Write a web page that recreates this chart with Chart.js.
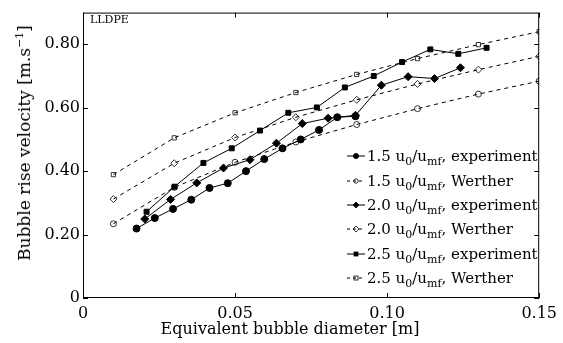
<!DOCTYPE html>
<html>
<head>
<meta charset="utf-8">
<script src="https://cdn.jsdelivr.net/npm/chart.js@4/dist/chart.umd.min.js"></script>
<style>
  html, body { margin: 0; padding: 0; background: #fff; }
  #wrap { position: relative; width: 563px; height: 343px; }
  .txt { position: absolute; font-family: "DejaVu Serif", serif; color: #000; white-space: nowrap; }
  #tag { left: 90px; top: 13px; font-size: 11px; }
  #xtitle { left: 290px; top: 328px; font-size: 16px; transform: translate(-50%, -50%); }
  #ytitle { left: 24px; top: 143px; font-size: 17px; transform: translate(-50%, -50%) rotate(-90deg); }
  #ytitle sup { font-size: 11px; vertical-align: 7px; line-height: 0; }
  #legend { left: 347px; top: 144px; font-size: 15px; }
  #legend .row { height: 24.4px; line-height: 20px; display: flex; align-items: center; }
  #legend svg { margin-right: 2px; }
  #legend sub { font-size: 11px; vertical-align: -4px; line-height: 0; }
</style>
</head>
<body>
<div id="wrap">
  <canvas id="c" width="563" height="343"></canvas>
  <div id="tag" class="txt">LLDPE</div>
  <div id="xtitle" class="txt">Equivalent bubble diameter [m]</div>
  <div id="ytitle" class="txt">Bubble rise velocity [m.s<sup>&minus;1</sup>]</div>
  <div id="legend" class="txt"></div>
</div>
<script>
// Equivalent bubble diameter [m] / rise velocity [m/s]
const exp15X = [0.0176, 0.0236, 0.0296, 0.0356, 0.0416, 0.0476, 0.0536, 0.0596, 0.0656, 0.0716, 0.0776, 0.0836, 0.0896];
const exp15Y = [0.219, 0.252, 0.281, 0.310, 0.347, 0.362, 0.400, 0.438, 0.472, 0.500, 0.530, 0.570, 0.573];

const exp20X = [0.0203, 0.0288, 0.0374, 0.0462, 0.0549, 0.0636, 0.0721, 0.0806, 0.0896, 0.0981, 0.1069, 0.1156, 0.1241];
const exp20Y = [0.249, 0.311, 0.363, 0.410, 0.436, 0.488, 0.550, 0.567, 0.576, 0.671, 0.698, 0.692, 0.726];

const exp25X = [0.0209, 0.0301, 0.0396, 0.0489, 0.0582, 0.0675, 0.0769, 0.0861, 0.0956, 0.1049, 0.1142, 0.1234, 0.1327];
const exp25Y = [0.272, 0.351, 0.426, 0.472, 0.528, 0.584, 0.601, 0.664, 0.700, 0.744, 0.784, 0.770, 0.789];

const wertherX = [0.01, 0.03, 0.05, 0.07, 0.09, 0.11, 0.13, 0.15];
const werther15Y = [0.234, 0.349, 0.428, 0.492, 0.547, 0.597, 0.643, 0.684];
const werther20Y = [0.312, 0.425, 0.506, 0.570, 0.625, 0.675, 0.720, 0.762];
const werther25Y = [0.389, 0.505, 0.584, 0.648, 0.705, 0.755, 0.799, 0.840];

const xTicks = [0, 0.05, 0.10, 0.15];
const yTicks = [0, 0.20, 0.40, 0.60, 0.80];

const pts = (xs, ys) => xs.map((x, i) => ({ x: x, y: ys[i] }));

function expSet(ratio, xs, ys, shape, r) {
  return { label: ratio + "|experiment", data: pts(xs, ys), borderColor: "#000", backgroundColor: "#000",
    borderWidth: 1, pointStyle: shape, pointRadius: r, pointBorderWidth: 1, pointBackgroundColor: "#000", showLine: true };
}
function werSet(ratio, ys, shape, r) {
  return { label: ratio + "|Werther", data: pts(wertherX, ys), borderColor: "#000", backgroundColor: "rgba(0,0,0,0)",
    borderWidth: 1, borderDash: [4, 4], pointStyle: shape, pointRadius: r, pointBorderWidth: 0.8,
    pointBackgroundColor: "rgba(0,0,0,0)", showLine: true };
}

const datasets = [
  expSet("1.5", exp15X, exp15Y, "circle", 3.5),
  werSet("1.5", werther15Y, "circle", 3),
  expSet("2.0", exp20X, exp20Y, "rectRot", 4),
  werSet("2.0", werther20Y, "rectRot", 3.5),
  expSet("2.5", exp25X, exp25Y, "rect", 3.5),
  werSet("2.5", werther25Y, "rect", 3)
];

// inward ticks + full box
const frame = {
  id: "frame",
  afterDraw(chart) {
    const { ctx, chartArea: a, scales } = chart;
    ctx.save();
    ctx.strokeStyle = "#000";
    ctx.lineWidth = 1;
    ctx.strokeRect(a.left + 0.5, a.top + 0.5, a.right - a.left - 1, a.bottom - a.top - 1);
    ctx.beginPath();
    xTicks.forEach(v => {
      const px = Math.round(scales.x.getPixelForValue(v)) + 0.5;
      ctx.moveTo(px, a.bottom); ctx.lineTo(px, a.bottom - 5);
      ctx.moveTo(px, a.top); ctx.lineTo(px, a.top + 5);
    });
    yTicks.forEach(v => {
      const py = Math.round(scales.y.getPixelForValue(v)) + 0.5;
      ctx.moveTo(a.left, py); ctx.lineTo(a.left + 5, py);
      ctx.moveTo(a.right, py); ctx.lineTo(a.right - 5, py);
    });
    ctx.stroke();
    ctx.restore();
  }
};

const serif = "'DejaVu Serif', serif";

const chart = new Chart(document.getElementById("c"), {
  type: "scatter",
  data: { datasets: datasets },
  options: {
    responsive: false,
    animation: false,
    layout: { padding: { left: 0, right: 22, top: 8, bottom: 0 } },
    plugins: { legend: { display: false }, tooltip: { enabled: false } },
    scales: {
      x: {
        type: "linear", min: 0, max: 0.15,
        afterBuildTicks: s => { s.ticks = xTicks.map(v => ({ value: v })); },
        afterFit: s => { s.height = 45; },
        grid: { display: false, drawTicks: false },
        border: { display: false },
        ticks: { color: "#000", font: { family: serif, size: 16 }, padding: 6,
          callback: v => v === 0 ? "0" : v.toFixed(2) },
        title: { display: false }
      },
      y: {
        type: "linear", min: 0, max: 0.9,
        afterBuildTicks: s => { s.ticks = yTicks.map(v => ({ value: v })); },
        afterFit: s => { s.width = 83; },
        grid: { display: false, drawTicks: false },
        border: { display: false },
        ticks: { color: "#000", font: { family: serif, size: 16 }, padding: 3,
          callback: v => v === 0 ? "0" : v.toFixed(2) },
        title: { display: false }
      }
    }
  },
  plugins: [frame]
});

// HTML legend built from the chart's datasets
function sample(ds) {
  const dash = ds.borderDash ? ' stroke-dasharray="3,3"' : "";
  const fill = ds.borderDash ? "none" : "#000";
  let mark;
  if (ds.pointStyle === "circle") mark = `<circle cx="9" cy="8" r="${ds.borderDash ? 2.2 : 2.6}" fill="${fill}" stroke="#000" stroke-width="0.8"/>`;
  else if (ds.pointStyle === "rectRot") mark = `<polygon points="9,5 12,8 9,11 6,8" fill="${fill}" stroke="#000" stroke-width="0.8"/>`;
  else mark = `<rect x="7" y="6" width="4" height="4" fill="${fill}" stroke="#000" stroke-width="0.8"/>`;
  return `<svg width="18" height="16"><line x1="0" y1="8" x2="18" y2="8" stroke="#000" stroke-width="1"${dash}/>${mark}</svg>`;
}
document.getElementById("legend").innerHTML = chart.data.datasets.map(ds => {
  const [ratio, kind] = ds.label.split("|");
  return `<div class="row">${sample(ds)}<span>${ratio} u<sub>0</sub>/u<sub>mf</sub>, ${kind}</span></div>`;
}).join("");
</script>
</body>
</html>
